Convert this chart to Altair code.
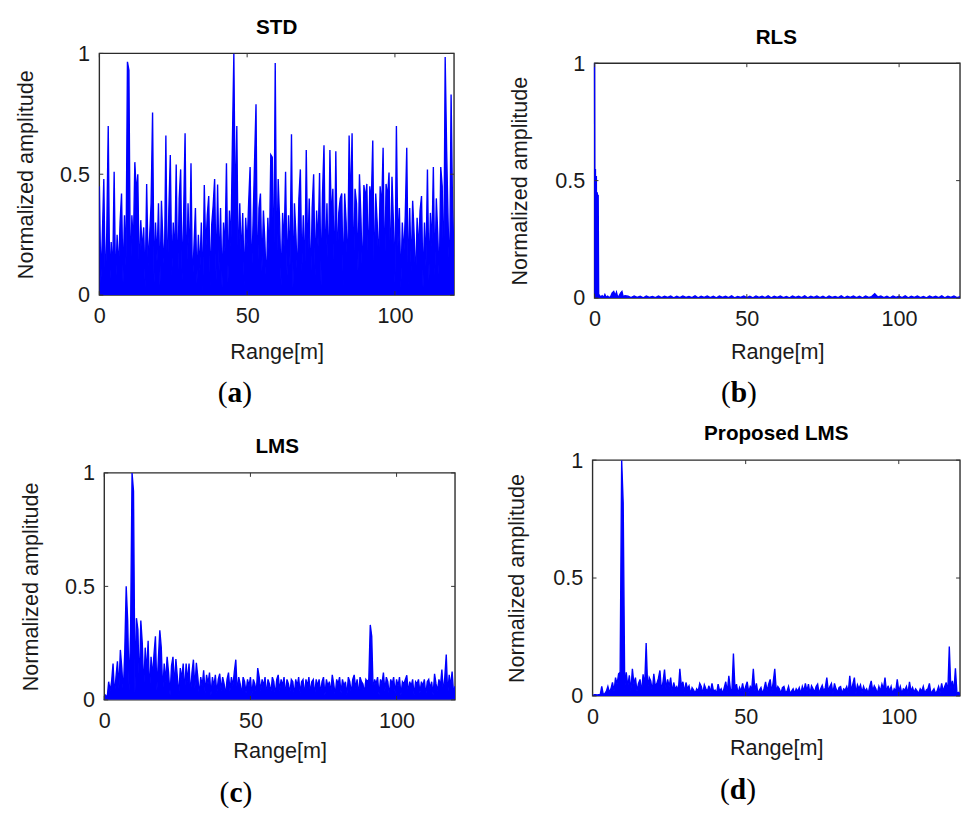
import altair as alt
import pandas as pd

# ---------------- data ----------------
STEP = 0.5  # range spacing of the samples [m]

STD = [
    0.45, 0.05, 0.24, 0.48, 0.02, 0.26, 0.70, 0.03, 0.22, 0.08, 0.51, 0.02, 0.25, 0.10, 0.30, 0.42, 0.05, 0.33, 0.12, 0.965,
    0.93, 0.04, 0.33, 0.20, 0.55, 0.42, 0.50, 0.06, 0.31, 0.18, 0.28, 0.03, 0.46, 0.12, 0.24, 0.38, 0.755, 0.05, 0.30, 0.14,
    0.38, 0.04, 0.39, 0.22, 0.10, 0.66, 0.03, 0.35, 0.58, 0.08, 0.30, 0.15, 0.54, 0.02, 0.40, 0.52, 0.06, 0.33, 0.67, 0.04,
    0.38, 0.12, 0.545, 0.03, 0.20, 0.36, 0.05, 0.25, 0.10, 0.30, 0.02, 0.455, 0.18, 0.33, 0.41, 0.04, 0.29, 0.37, 0.48, 0.06,
    0.457, 0.10, 0.36, 0.03, 0.30, 0.18, 0.545, 0.05, 0.35, 0.20, 0.626, 1.0, 0.30, 0.70, 0.08, 0.38, 0.15, 0.34, 0.04, 0.32,
    0.20, 0.38, 0.53, 0.06, 0.30, 0.55, 0.79, 0.03, 0.36, 0.42, 0.10, 0.35, 0.22, 0.04, 0.32, 0.15, 0.58, 0.57, 0.05, 0.96,
    0.10, 0.48, 0.30, 0.04, 0.34, 0.20, 0.51, 0.08, 0.33, 0.12, 0.665, 0.03, 0.38, 0.25, 0.06, 0.40, 0.52, 0.10, 0.33, 0.05,
    0.60, 0.14, 0.40, 0.03, 0.36, 0.50, 0.08, 0.35, 0.20, 0.505, 0.04, 0.42, 0.62, 0.10, 0.38, 0.06, 0.60, 0.30, 0.44, 0.05,
    0.595, 0.12, 0.34, 0.40, 0.42, 0.04, 0.42, 0.30, 0.08, 0.66, 0.35, 0.67, 0.06, 0.44, 0.38, 0.10, 0.50, 0.32, 0.05, 0.455,
    0.40, 0.46, 0.10, 0.45, 0.38, 0.64, 0.04, 0.42, 0.30, 0.12, 0.45, 0.35, 0.61, 0.06, 0.46, 0.40, 0.507, 0.08, 0.49, 0.30,
    0.05, 0.70, 0.20, 0.36, 0.03, 0.30, 0.16, 0.33, 0.61, 0.04, 0.36, 0.10, 0.39, 0.25, 0.05, 0.32, 0.18, 0.35, 0.41, 0.03,
    0.30, 0.12, 0.52, 0.06, 0.34, 0.20, 0.53, 0.08, 0.40, 0.25, 0.05, 0.53, 0.45, 0.03, 0.985, 0.595, 0.30, 0.05, 0.83, 0.36,
    0.16,
]

LMS = [
    0.0, 0.02, 0.01, 0.08, 0.04, 0.08, 0.16, 0.02, 0.10, 0.17, 0.05, 0.22, 0.14, 0.03, 0.21, 0.50, 0.35, 0.04, 0.30, 1.0,
    0.92, 0.03, 0.36, 0.31, 0.05, 0.35, 0.25, 0.04, 0.23, 0.12, 0.26, 0.02, 0.19, 0.10, 0.20, 0.28, 0.04, 0.18, 0.306, 0.23,
    0.03, 0.16, 0.08, 0.19, 0.12, 0.02, 0.15, 0.19, 0.06, 0.18, 0.10, 0.02, 0.14, 0.09, 0.16, 0.03, 0.16, 0.08, 0.16, 0.02,
    0.12, 0.177, 0.05, 0.163, 0.10, 0.02, 0.10, 0.06, 0.13, 0.03, 0.11, 0.07, 0.12, 0.02, 0.10, 0.06, 0.11, 0.03, 0.09, 0.115,
    0.04, 0.10, 0.07, 0.02, 0.09, 0.12, 0.04, 0.10, 0.06, 0.125, 0.177, 0.03, 0.10, 0.07, 0.02, 0.10, 0.08, 0.03, 0.09, 0.06,
    0.10, 0.02, 0.09, 0.07, 0.03, 0.14, 0.10, 0.04, 0.09, 0.06, 0.10, 0.02, 0.09, 0.07, 0.03, 0.10, 0.08, 0.02, 0.09, 0.11,
    0.04, 0.09, 0.06, 0.10, 0.02, 0.09, 0.07, 0.03, 0.09, 0.08, 0.02, 0.09, 0.06, 0.10, 0.03, 0.08, 0.09, 0.02, 0.09, 0.06,
    0.10, 0.03, 0.08, 0.09, 0.02, 0.09, 0.06, 0.09, 0.03, 0.08, 0.10, 0.02, 0.09, 0.06, 0.08, 0.03, 0.11, 0.07, 0.02, 0.09,
    0.07, 0.10, 0.03, 0.09, 0.06, 0.08, 0.02, 0.10, 0.08, 0.03, 0.09, 0.11, 0.05, 0.09, 0.02, 0.10, 0.08, 0.07, 0.03, 0.09,
    0.08, 0.09, 0.33, 0.28, 0.03, 0.09, 0.07, 0.10, 0.02, 0.09, 0.07, 0.12, 0.04, 0.10, 0.08, 0.02, 0.09, 0.07, 0.10, 0.03,
    0.09, 0.06, 0.10, 0.02, 0.08, 0.07, 0.09, 0.108, 0.03, 0.08, 0.06, 0.09, 0.02, 0.08, 0.07, 0.09, 0.03, 0.08, 0.06, 0.09,
    0.02, 0.08, 0.09, 0.05, 0.08, 0.02, 0.115, 0.07, 0.04, 0.09, 0.06, 0.134, 0.03, 0.10, 0.20, 0.02, 0.11, 0.06, 0.125, 0.03,
    0.06,
]

PROPOSED = [
    0.0, 0.005, 0.005, 0.004, 0.005, 0.005, 0.04, 0.005, 0.01, 0.02, 0.04, 0.015, 0.03, 0.057, 0.02, 0.078, 0.05, 0.094, 0.10, 1.0,
    0.817, 0.03, 0.10, 0.04, 0.087, 0.02, 0.115, 0.05, 0.078, 0.02, 0.053, 0.07, 0.015, 0.092, 0.04, 0.224, 0.03, 0.078, 0.064, 0.02,
    0.094, 0.04, 0.053, 0.074, 0.108, 0.02, 0.06, 0.112, 0.03, 0.07, 0.04, 0.078, 0.015, 0.057, 0.03, 0.04, 0.02, 0.115, 0.04, 0.06,
    0.015, 0.057, 0.03, 0.043, 0.01, 0.035, 0.025, 0.01, 0.03, 0.02, 0.053, 0.04, 0.01, 0.047, 0.03, 0.02, 0.043, 0.015, 0.053, 0.02,
    0.025, 0.01, 0.05, 0.02, 0.03, 0.01, 0.035, 0.06, 0.015, 0.085, 0.03, 0.02, 0.18, 0.03, 0.05, 0.01, 0.036, 0.02, 0.053, 0.015,
    0.04, 0.06, 0.015, 0.04, 0.03, 0.115, 0.02, 0.053, 0.01, 0.025, 0.036, 0.01, 0.03, 0.06, 0.02, 0.05, 0.07, 0.015, 0.06, 0.115,
    0.02, 0.04, 0.03, 0.01, 0.035, 0.04, 0.015, 0.02, 0.04, 0.01, 0.02, 0.03, 0.01, 0.03, 0.02, 0.035, 0.01, 0.04, 0.02, 0.053,
    0.02, 0.05, 0.01, 0.043, 0.03, 0.015, 0.04, 0.05, 0.01, 0.03, 0.045, 0.02, 0.035, 0.078, 0.02, 0.04, 0.053, 0.01, 0.053, 0.03,
    0.015, 0.036, 0.04, 0.01, 0.03, 0.025, 0.04, 0.015, 0.085, 0.02, 0.05, 0.078, 0.01, 0.047, 0.03, 0.047, 0.015, 0.04, 0.02, 0.03,
    0.01, 0.04, 0.064, 0.02, 0.043, 0.03, 0.01, 0.04, 0.02, 0.05, 0.03, 0.078, 0.015, 0.043, 0.02, 0.04, 0.01, 0.03, 0.02, 0.07,
    0.02, 0.04, 0.01, 0.03, 0.025, 0.04, 0.01, 0.06, 0.02, 0.036, 0.015, 0.03, 0.02, 0.01, 0.03, 0.02, 0.04, 0.01, 0.025, 0.03,
    0.053, 0.01, 0.02, 0.03, 0.01, 0.02, 0.04, 0.015, 0.053, 0.02, 0.04, 0.057, 0.01, 0.21, 0.03, 0.064, 0.02, 0.117, 0.01, 0.015,
    0.01,
]

# RLS: irregular samples near the origin, then 1 m samples from 11 m to 120 m
RLS_HEAD_X = [0, 0.15, 0.3, 0.45, 0.6, 0.75, 0.9, 1.05, 1.2, 1.35, 1.6, 2.0, 2.5, 3.0, 3.4, 3.8,
              4.3, 4.8, 5.3, 5.8, 6.3, 6.8, 7.2, 7.6, 8.1, 8.6, 9.0, 9.4, 10]
RLS_HEAD_Y = [1.0, 0.02, 0.55, 0.03, 0.52, 0.02, 0.45, 0.03, 0.44, 0.01, 0.012, 0.004, 0.01, 0.002, 0.015, 0.003,
              0.008, 0.002, 0.006, 0.022, 0.028, 0.01, 0.025, 0.004, 0.01, 0.022, 0.028, 0.006, 0.01]
RLS_TAIL_START = 11
RLS_TAIL_Y = [
    0.008, 0.002, 0.009, 0.003, 0.008, 0.001, 0.009, 0.003, 0.007, 0.002,
    0.009, 0.002, 0.008, 0.003, 0.009, 0.001, 0.008, 0.002, 0.009, 0.003,
    0.007, 0.002, 0.009, 0.001, 0.008, 0.003, 0.009, 0.002, 0.008, 0.001,
    0.009, 0.003, 0.008, 0.002, 0.009, 0.001, 0.007, 0.003, 0.009, 0.002,
    0.008, 0.001, 0.009, 0.003, 0.008, 0.002, 0.009, 0.001, 0.008, 0.003,
    0.009, 0.002, 0.007, 0.001, 0.009, 0.003, 0.008, 0.002, 0.009, 0.001,
    0.008, 0.003, 0.009, 0.002, 0.008, 0.001, 0.009, 0.003, 0.007, 0.002,
    0.009, 0.001, 0.008, 0.003, 0.009, 0.002, 0.008, 0.001, 0.009, 0.003,
    0.006, 0.018, 0.004, 0.009, 0.002, 0.008, 0.001, 0.009, 0.003, 0.008,
    0.002, 0.009, 0.001, 0.008, 0.003, 0.009, 0.002, 0.007, 0.001, 0.009,
    0.003, 0.008, 0.002, 0.009, 0.001, 0.008, 0.003, 0.009, 0.002, 0.006,
]

TITLES = ["STD", "RLS", "LMS", "Proposed LMS"]
LETTERS = ["a", "b", "c", "d"]
X_TICKS = [0, 50, 100]
Y_TICKS = [0, 0.5, 1]
X_DOMAIN = [0, 120]
X_TITLE = "Range[m]"
Y_TITLE = "Normalized amplitude"

# ---------------- styling ----------------
SANS = "Liberation Sans"
SERIF = "Liberation Serif"
BLUE = "#0000ff"
INK = "#1a1a1a"
FRAME = "#2b2b2b"
LETTER_HALF = {"a": 7.5, "b": 8.3, "c": 6.7, "d": 8.3}


def grid(values):
    return [round(i * STEP, 3) for i in range(len(values))]


def panel(xs, ys, title, letter, w, h, y_title_pad, x_title_pad, letter_cx, letter_base,
          top=0, left=0, stroke_w=1.4):
    """A framed panel; `top`/`left` leave an empty strip before the frame inside the view."""
    H = h + top
    W = w + left
    df = pd.DataFrame({"x": xs, "y": ys})
    x_enc = alt.X("x:Q", scale=alt.Scale(domain=X_DOMAIN, nice=False, zero=False, range=[left, W]),
                  axis=alt.Axis(values=X_TICKS, title=X_TITLE, titlePadding=x_title_pad,
                                labelPadding=11, ticks=False, tickSize=0, domain=False,
                                grid=False, labelFlush=False))
    y_enc = alt.Y("y:Q", scale=alt.Scale(domain=[0, 1], nice=False, range=[H, top]),
                  axis=alt.Axis(values=Y_TICKS, format="~g", title=Y_TITLE,
                                titlePadding=y_title_pad, labelPadding=10 - left, ticks=False,
                                tickSize=0, domain=False, grid=False, labelFlush=False))

    one = pd.DataFrame({"k": [0]})
    frame = alt.Chart(one).mark_rect(fillOpacity=0, stroke=FRAME, strokeWidth=1.4).encode(
        x=alt.value(left), x2=alt.value(W), y=alt.value(top), y2=alt.value(H))

    fill = alt.Chart(df).mark_area(color=BLUE, opacity=1, clip=True).encode(x=x_enc, y=y_enc)
    line = alt.Chart(df).mark_line(color=BLUE, strokeWidth=stroke_w, clip=True).encode(
        x=x_enc, y=y_enc)

    xt = pd.DataFrame({"x": X_TICKS})
    yt = pd.DataFrame({"y": Y_TICKS})
    tick = dict(color="#333333", strokeWidth=1)
    top_t = alt.Chart(xt).mark_rule(**tick).encode(x=x_enc, y=alt.value(top), y2=alt.value(top + 4))
    bot_t = alt.Chart(xt).mark_rule(**tick).encode(x=x_enc, y=alt.value(H), y2=alt.value(H - 4))
    left_t = alt.Chart(yt).mark_rule(**tick).encode(y=y_enc, x=alt.value(left), x2=alt.value(left + 4))
    right_t = alt.Chart(yt).mark_rule(**tick).encode(y=y_enc, x=alt.value(W), x2=alt.value(W - 4))

    ldf = pd.DataFrame({"t": [letter], "o": ["("], "c": [")"]})
    common = dict(font=SERIF, fontSize=30, baseline="alphabetic", color="black")
    half = LETTER_HALF[letter]
    cx = left + letter_cx
    mid = alt.Chart(ldf).mark_text(fontWeight="bold", align="center", **common).encode(
        text="t:N", x=alt.value(cx), y=alt.value(top + letter_base))
    lp = alt.Chart(ldf).mark_text(align="right", **common).encode(
        text="o:N", x=alt.value(cx - half), y=alt.value(top + letter_base))
    rp = alt.Chart(ldf).mark_text(align="left", **common).encode(
        text="c:N", x=alt.value(cx + half), y=alt.value(top + letter_base))

    tparams = dict(text=title, font=SANS, fontSize=21, fontWeight="bold", color="black",
                   anchor="middle", offset=5)
    return alt.layer(frame, fill, line, top_t, bot_t, left_t, right_t, mid, lp, rp).properties(
        width=W, height=H, title=alt.TitleParams(**tparams))


rls_x = RLS_HEAD_X + [RLS_TAIL_START + k for k in range(len(RLS_TAIL_Y))]
rls_y = RLS_HEAD_Y + RLS_TAIL_Y

pa = panel(grid(STD), STD, TITLES[0], LETTERS[0], 361, 246, 22, 16, 138, 355)
pb = panel(rls_x, rls_y, TITLES[1], LETTERS[1], 372, 239, 24, 13, 147, 345, top=10, left=2)
pc = panel(grid(LMS), LMS, TITLES[2], LETTERS[2], 357, 231, 22, 10, 134, 335, left=5)
pd_ = panel(grid(PROPOSED), PROPOSED, TITLES[3], LETTERS[3], 374, 240, 25, 11, 148, 345)

left_col = alt.vconcat(pa, pc, spacing=29)
right_col = alt.vconcat(pb, pd_, spacing=16)

chart = alt.concat(left_col, right_col, columns=2, align="none", spacing=50).properties(
    padding={"left": 7, "top": 2, "right": 0, "bottom": 0}
).configure_view(
    stroke="transparent", strokeWidth=0
).configure_axis(
    labelFont=SANS, labelFontSize=22, labelColor=INK,
    titleFont=SANS, titleFontSize=22, titleFontWeight="normal", titleColor=INK,
)

chart.save("out.html", embed_options={"renderer": "svg", "actions": False})
